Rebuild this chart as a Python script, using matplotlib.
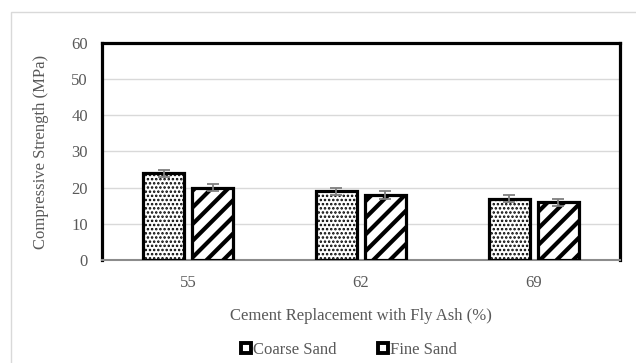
import matplotlib
matplotlib.use("Agg")
import matplotlib.pyplot as plt
import numpy as np
from matplotlib.lines import Line2D
from matplotlib.patches import Rectangle

# Compressive strength by fly ash replacement level
categories = ["55", "62", "69"]
coarse_sand = [24, 19, 17]
fine_sand = [20, 18, 16]
coarse_err = [1, 1, 1]
fine_err = [1, 1, 1]
series_names = ["Coarse Sand", "Fine Sand"]
y_ticks = [0, 10, 20, 30, 40, 50, 60]

plt.rcParams["font.family"] = ["Liberation Serif", "DejaVu Serif"]
text_color = "#595959"
fs = 12

fig = plt.figure(figsize=(6.36, 3.63), dpi=100)
ax = fig.add_axes([0.160, 0.2837, 0.815, 0.598])

# light outer chart border
fig.patches.append(Rectangle((11 / 636, -0.1), 1.2, 1 - 12 / 363 + 0.1,
                             transform=fig.transFigure, fill=False,
                             edgecolor="#d9d9d9", linewidth=1.0))

x = np.arange(len(categories))
w = 0.237
gap = 0.046
off = (w + gap) / 2

with plt.rc_context({"hatch.linewidth": 1.2}):
    ax.bar(x - off, coarse_sand, w, facecolor="white", edgecolor="black",
           linewidth=2.3, hatch="....", zorder=3)
with plt.rc_context({"hatch.linewidth": 3.0}):
    ax.bar(x + off, fine_sand, w, facecolor="white", edgecolor="black",
           linewidth=2.3, hatch="//", zorder=3)

err_kw = dict(fmt="none", ecolor="#7f7f7f", elinewidth=1.3, capsize=4.5,
              capthick=1.3, zorder=4)
ax.errorbar(x - off, coarse_sand, yerr=coarse_err, **err_kw)
ax.errorbar(x + off, fine_sand, yerr=fine_err, **err_kw)

ax.set_xlim(-0.5, len(categories) - 0.5)
ax.set_ylim(0, 60)
ax.set_yticks(y_ticks)
ax.set_xticks(x)
ax.set_xticklabels(categories)
ax.yaxis.grid(True, color="#d9d9d9", linewidth=1.0, zorder=0)
ax.set_axisbelow(True)
ax.tick_params(axis="both", length=0, labelsize=fs, colors=text_color)
ax.tick_params(axis="y", pad=10)
ax.tick_params(axis="x", pad=11)

for side in ("left", "top", "right"):
    ax.spines[side].set_linewidth(2.3)
    ax.spines[side].set_color("black")
ax.spines["bottom"].set_color("#8c8c8c")
ax.spines["bottom"].set_linewidth(1.5)

ax.set_ylabel("Compressive Strength (MPa)", fontsize=fs, color=text_color,
              labelpad=16)
ax.set_xlabel("Cement Replacement with Fly Ash (%)", fontsize=fs,
              color=text_color, labelpad=12)

handles = [Line2D([], [], linestyle="none", marker="s", markersize=7.5,
                  markerfacecolor="white", markeredgecolor="black",
                  markeredgewidth=2.8) for _ in series_names]
fig.legend(handles, series_names, loc="center", bbox_to_anchor=(0.547, 0.036),
           ncol=2, frameon=False, fontsize=fs, labelcolor=text_color,
           handletextpad=0.0, columnspacing=2.4, handlelength=0.8)

fig.savefig("out.png", dpi=100)
